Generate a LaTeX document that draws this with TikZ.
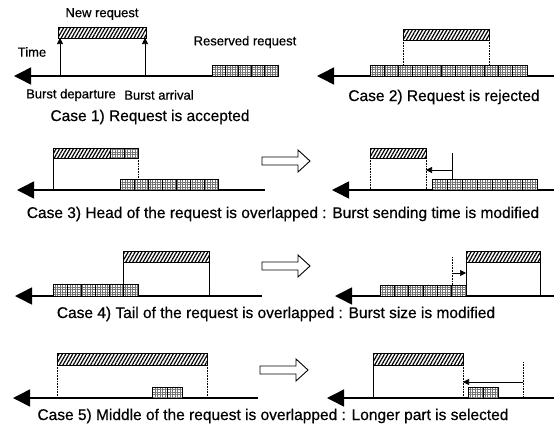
\documentclass[tikz,border=0pt]{standalone}
\usepackage{fontspec}
\setmainfont{Liberation Sans}[FakeBold=0.5]
\usetikzlibrary{arrows.meta,patterns.meta}
\tikzset{
 axisline/.style={line width=1.5pt, -{Triangle[length=17pt,width=17pt]}},
 hatchbar/.style={draw=black, line width=0.9pt, pattern={Lines[angle=60,distance=3pt,line width=1.2pt]}},
 cellfill/.style={pattern={Hatch[angle=0,distance=2.5pt,line width=0.5pt]}, pattern color=black!55},
 cellline/.style={draw=black, line width=0.8pt},
 guide/.style={line width=0.5pt},
 dguide/.style={line width=0.6pt, densely dotted},
 smallarrow/.style={line width=0.7pt, -{Triangle[length=6pt,width=6pt]}},
 hollow/.style={draw=black, line width=0.9pt, fill=white},
 small/.style={font=\fontsize{13}{15}\selectfont, inner sep=0pt},
 caselabel/.style={font=\fontsize{15.5}{18}\selectfont, inner sep=0pt},
}
\newcommand\cellbox[5]{%
 \fill[white] (#1,#2) rectangle (#3,#4);
 \fill[cellfill] (#1,#2) rectangle (#3,#4);
 \pgfmathsetmacro\cw{(#3-#1)/#5}%
 \pgfmathtruncatemacro\nm{#5-1}%
 \foreach \k in {1,...,\nm}{\draw[cellline] ({#1+\k*\cw},#2) -- ({#1+\k*\cw},#4);}
 \draw[cellline] (#1,#2) rectangle (#3,#4);
}
\newcommand\hatchbox[4]{\path[hatchbar] (#1,#2) rectangle (#3,#4);}
\newcommand\hollowarrow[2]{%
 \draw[hollow] ({#1},{#2-4}) -- ({#1+36},{#2-4}) -- ({#1+36},{#2-11}) -- ({#1+48},{#2}) -- ({#1+36},{#2+11}) -- ({#1+36},{#2+4}) -- ({#1},{#2+4}) -- cycle;}
\begin{document}
\begin{tikzpicture}[x=1pt,y=-1pt]
\useasboundingbox (0,0) rectangle (554,432);
\fill[white] (0,0) rectangle (554,432);

% ---------- Case 1 ----------
\coordinate (a1s) at (278,76); \coordinate (a1e) at (14,76);
\draw[axisline] (a1s) -- (a1e);
\hatchbox{58}{27}{146}{38}
\coordinate (dep) at (60,76); \coordinate (depT) at (60,38);
\coordinate (arr) at (145,76); \coordinate (arrT) at (145,38);
\draw[smallarrow] (dep) -- (depT);
\draw[smallarrow] (arr) -- (arrT);
\cellbox{212}{65}{278}{76}{5}
\node[small] (newreq) at (102,14) {New request};
\node[small] (time) at (32,52) {Time};
\node[small] (resreq) at (245,42) {Reserved request};
\node[small] (bdep) at (71,95) {Burst departure};
\node[small] (barr) at (159,95) {Burst arrival};
\node[caselabel] (c1) at (150,117) {Case 1) Request is accepted};

% ---------- Case 2 ----------
\coordinate (a2s) at (554,76); \coordinate (a2e) at (317,76);
\draw[axisline] (a2s) -- (a2e);
\cellbox{370}{65}{527}{76}{11}
\hatchbox{403}{29}{489}{40}
\draw[dguide] (403,40) -- (403,65);
\draw[dguide] (489,40) -- (489,65);
\node[caselabel] (c2) at (444,97) {Case 2) Request is rejected};

% ---------- Case 3 ----------
\coordinate (a3s) at (265,190); \coordinate (a3e) at (17,190);
\draw[axisline] (a3s) -- (a3e);
\draw[guide] (53,158) -- (53,190);
\draw[dguide] (138,158) -- (138,179);
\cellbox{120}{179}{218}{190}{7}
\cellbox{110}{148}{138}{158}{2}
\hatchbox{53}{148}{110}{158}
\draw[cellline] (53,148) rectangle (138,158);
\hollowarrow{262}{161}
\coordinate (a3rs) at (554,190); \coordinate (a3re) at (332,190);
\draw[axisline] (a3rs) -- (a3re);
\hatchbox{370}{148}{426}{158}
\draw[dguide] (370,158) -- (370,190);
\draw[dguide] (426,158) -- (426,190);
\cellbox{432}{179}{537}{190}{7}
\coordinate (t3a) at (452,153); \coordinate (t3b) at (452,179);
\draw[guide] (t3a) -- (t3b);
\coordinate (s3a) at (452,170); \coordinate (s3b) at (426,170);
\draw[smallarrow] (s3a) -- (s3b);
\node[caselabel] (c3) at (283,214) {Case 3) Head of the request is overlapped : Burst sending time is modified};

% ---------- Case 4 ----------
\coordinate (a4s) at (262,296); \coordinate (a4e) at (15,296);
\draw[axisline] (a4s) -- (a4e);
\hatchbox{123}{251}{209}{262}
\draw[guide] (123,262) -- (123,284);
\draw[guide] (209,262) -- (209,296);
\cellbox{53}{284}{138}{296}{6}
\hollowarrow{262}{266}
\coordinate (a4rs) at (554,296); \coordinate (a4re) at (335,296);
\draw[axisline] (a4rs) -- (a4re);
\hatchbox{466}{251}{540}{262}
\draw[guide] (466,262) -- (466,296);
\draw[guide] (540,262) -- (540,296);
\cellbox{380}{285}{466}{296}{6}
\coordinate (t4a) at (452,257); \coordinate (t4b) at (452,285);
\draw[dguide] (t4a) -- (t4b);
\coordinate (s4a) at (452,273); \coordinate (s4b) at (466,273);
\draw[smallarrow] (s4a) -- (s4b);
\node[caselabel] (c4) at (276,314) {Case 4) Tail of the request is overlapped : Burst size is modified};

% ---------- Case 5 ----------
\coordinate (a5s) at (258,398); \coordinate (a5e) at (13,398);
\draw[axisline] (a5s) -- (a5e);
\hatchbox{57}{353}{207}{365}
\draw[dguide] (57,365) -- (57,398);
\draw[dguide] (207,365) -- (207,398);
\cellbox{152}{387}{182}{398}{2}
\hollowarrow{260}{370}
\coordinate (a5rs) at (554,398); \coordinate (a5re) at (327,398);
\draw[axisline] (a5rs) -- (a5re);
\hatchbox{373}{353}{463}{365}
\draw[guide] (373,365) -- (373,398);
\draw[dguide] (463,365) -- (463,398);
\cellbox{468}{387}{498}{398}{2}
\coordinate (t5a) at (523,362); \coordinate (t5b) at (523,398);
\draw[dguide] (t5a) -- (t5b);
\coordinate (s5a) at (523,382); \coordinate (s5b) at (463,382);
\draw[smallarrow] (s5a) -- (s5b);
\node[caselabel] (c5) at (273,416) {Case 5) Middle of the request is overlapped : Longer part is selected};
\end{tikzpicture}
\end{document}
